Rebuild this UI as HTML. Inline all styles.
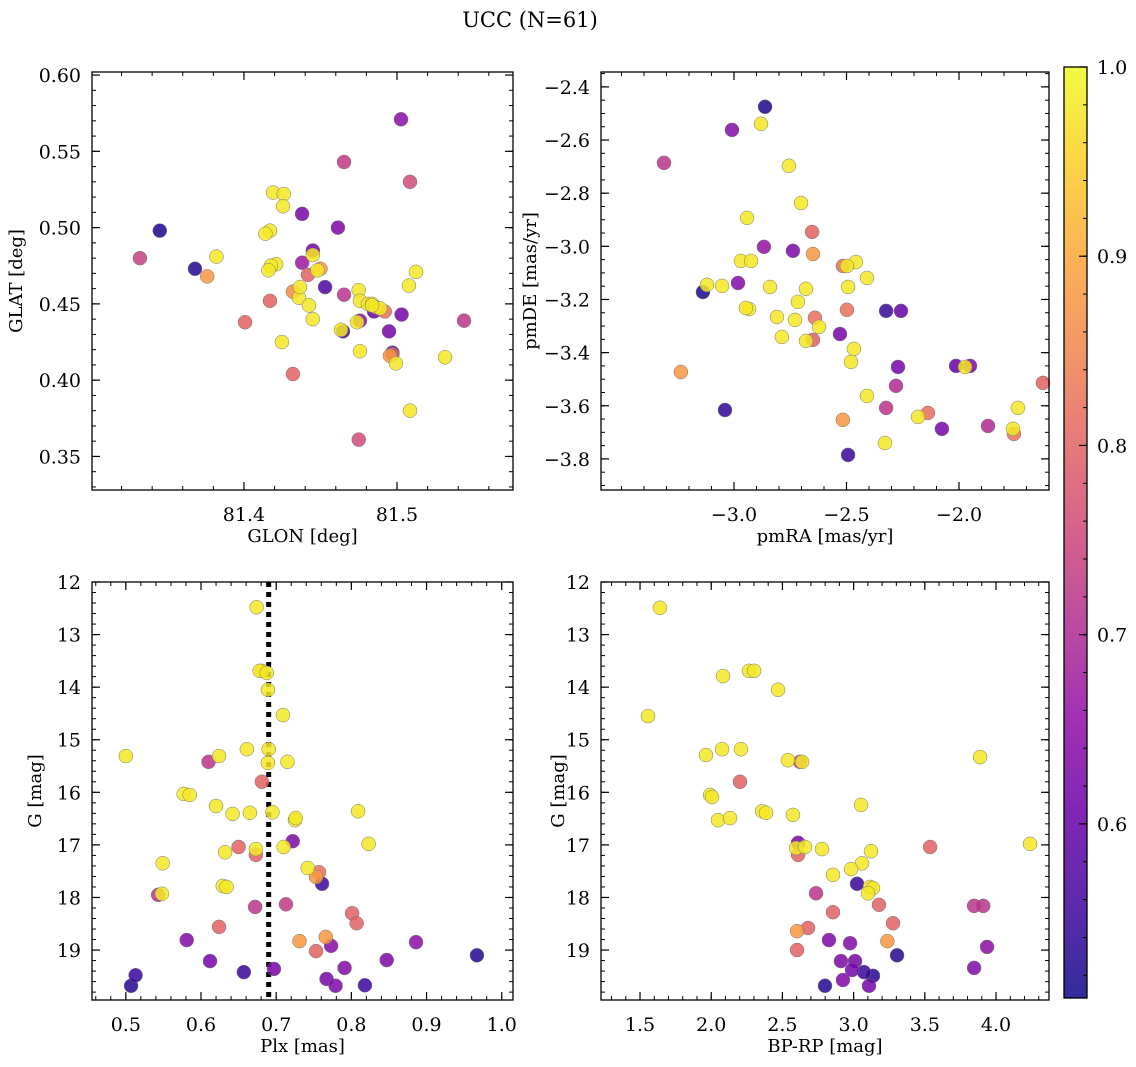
<!DOCTYPE html>
<html><head><meta charset="utf-8"><style>
html,body{margin:0;padding:0;background:#fff;}
svg{display:block;font-family:"DejaVu Serif","Liberation Serif",serif;}
</style></head><body>
<svg id="fig" width="1136" height="1067" xmlns="http://www.w3.org/2000/svg">
<text x="530" y="27" text-anchor="middle" font-size="21">UCC (N=61)</text>
</svg>
<script>
// ---- Panel 1: GLON / GLAT ----
const p1x=[81.5026,81.4654,81.5085,81.419,81.426,81.4255,81.438,81.345,81.4614,81.417,81.414,81.445,81.445,81.382,81.332,81.421,81.4176,81.438,81.416,81.368,81.450,81.448,81.376,81.4418,81.5124,81.5078,81.453,81.432,81.475,81.417,81.436,81.4654,81.4758,81.4425,81.481,81.4837,81.486,81.492,81.489,81.485,81.503,81.4007,81.5438,81.445,81.4739,81.4758,81.4647,81.4634,81.4948,81.4248,81.4758,81.497,81.4954,81.497,81.5314,81.4993,81.432,81.5085,81.475,81.4366,81.4837];
const p1y=[0.571,0.543,0.530,0.523,0.522,0.514,0.509,0.498,0.500,0.498,0.496,0.485,0.482,0.481,0.480,0.476,0.475,0.477,0.472,0.473,0.473,0.472,0.468,0.469,0.471,0.462,0.461,0.458,0.459,0.452,0.454,0.456,0.452,0.449,0.450,0.450,0.448,0.445,0.447,0.445,0.443,0.438,0.439,0.440,0.438,0.439,0.432,0.433,0.432,0.425,0.419,0.418,0.416,0.417,0.415,0.411,0.404,0.380,0.361,0.461,0.449];
const p1c=[0.65,0.73,0.76,0.98,0.98,0.98,0.62,0.52,0.63,0.98,0.98,0.62,0.98,0.98,0.74,0.98,0.98,0.67,0.98,0.53,0.88,0.98,0.88,0.80,0.98,0.98,0.57,0.86,0.98,0.80,0.98,0.72,0.98,0.98,0.98,0.98,0.98,0.82,0.98,0.60,0.62,0.80,0.72,0.98,0.98,0.65,0.56,0.98,0.62,0.98,0.98,0.56,0.88,0.80,0.98,0.98,0.80,0.98,0.76,0.98,0.98];
// ---- Panel 2: pmRA / pmDE ----
const p2x=[-2.862,-2.880,-3.009,-3.311,-2.756,-2.702,-2.942,-2.653,-2.867,-2.738,-2.969,-2.924,-2.649,-2.458,-2.516,-2.498,-2.680,-2.409,-3.120,-3.053,-2.982,-2.840,-3.138,-2.493,-2.716,-2.933,-2.947,-2.640,-2.498,-2.324,-2.258,-2.809,-2.729,-2.622,-2.787,-2.680,-2.649,-2.529,-2.467,-2.480,-2.271,-2.013,-1.951,-1.973,-3.236,-2.280,-1.627,-2.409,-3.040,-1.738,-2.324,-2.138,-2.182,-2.516,-2.076,-1.871,-1.760,-1.756,-2.329,-2.493];
const p2y=[-2.475,-2.539,-2.562,-2.686,-2.697,-2.837,-2.893,-2.946,-3.002,-3.017,-3.055,-3.055,-3.029,-3.059,-3.074,-3.074,-3.160,-3.119,-3.145,-3.149,-3.138,-3.153,-3.172,-3.153,-3.209,-3.236,-3.232,-3.269,-3.239,-3.243,-3.243,-3.266,-3.277,-3.303,-3.341,-3.356,-3.352,-3.330,-3.386,-3.435,-3.454,-3.450,-3.450,-3.454,-3.473,-3.525,-3.514,-3.563,-3.616,-3.608,-3.608,-3.627,-3.642,-3.653,-3.687,-3.676,-3.687,-3.706,-3.740,-3.785];
const p2c=[0.52,0.98,0.64,0.72,0.98,0.98,0.98,0.80,0.66,0.63,0.98,0.98,0.88,0.98,0.82,0.98,0.98,0.98,0.98,0.98,0.64,0.98,0.52,0.98,0.98,0.98,0.98,0.82,0.82,0.55,0.60,0.98,0.98,0.98,0.98,0.98,0.80,0.62,0.98,0.98,0.62,0.60,0.63,0.98,0.88,0.70,0.80,0.98,0.54,0.98,0.72,0.82,0.98,0.88,0.62,0.70,0.98,0.82,0.98,0.55];
// ---- Panel 3: Plx / G ----
const p3x=[0.674,0.681,0.678,0.6875,0.689,0.709,0.500,0.624,0.661,0.690,0.689,0.715,0.610,0.681,0.577,0.585,0.620,0.642,0.665,0.695,0.809,0.725,0.726,0.823,0.722,0.710,0.650,0.632,0.673,0.673,0.549,0.742,0.757,0.753,0.761,0.548,0.543,0.629,0.634,0.672,0.713,0.801,0.624,0.807,0.581,0.731,0.766,0.773,0.753,0.886,0.967,0.612,0.791,0.847,0.657,0.697,0.513,0.767,0.507,0.779,0.818];
const p3y=[12.48,13.69,13.69,13.73,14.05,14.53,15.31,15.31,15.18,15.18,15.44,15.42,15.42,15.80,16.03,16.05,16.26,16.41,16.39,16.38,16.36,16.53,16.49,16.98,16.93,17.04,17.04,17.14,17.08,17.19,17.35,17.44,17.52,17.61,17.74,17.93,17.95,17.78,17.80,18.18,18.13,18.30,18.56,18.49,18.81,18.83,18.75,18.92,19.02,18.85,19.10,19.21,19.34,19.19,19.42,19.36,19.48,19.55,19.68,19.68,19.67];
const p3c=[0.98,0.98,0.98,0.98,0.98,0.98,0.98,0.98,0.98,0.98,0.98,0.98,0.72,0.80,0.98,0.98,0.98,0.98,0.98,0.98,0.98,0.98,0.98,0.98,0.63,0.98,0.80,0.98,0.98,0.80,0.98,0.98,0.82,0.88,0.55,0.98,0.72,0.98,0.98,0.72,0.73,0.80,0.80,0.80,0.64,0.88,0.88,0.64,0.80,0.65,0.53,0.62,0.64,0.63,0.55,0.62,0.55,0.62,0.53,0.63,0.55];
// ---- Panel 4: BP-RP / G ----
const p4x=[1.640,1.556,2.083,2.265,2.301,2.469,1.963,2.076,2.209,2.539,3.888,2.202,2.624,2.638,1.992,2.006,3.052,2.357,2.385,2.574,2.048,2.132,2.610,4.239,2.778,3.122,3.537,2.596,2.610,2.659,3.059,2.982,2.855,2.736,3.024,3.115,3.136,3.101,3.178,2.855,3.910,3.846,3.277,2.680,2.603,2.827,2.975,3.237,3.937,2.603,3.305,2.911,3.010,2.989,3.073,3.846,3.136,2.925,2.799,3.108];
const p4y=[12.49,14.55,13.79,13.69,13.69,14.05,15.29,15.18,15.18,15.39,15.33,15.80,15.42,15.42,16.05,16.09,16.24,16.36,16.39,16.43,16.53,16.49,16.96,16.98,17.08,17.12,17.04,17.06,17.19,17.04,17.35,17.46,17.57,17.92,17.74,17.80,17.82,17.92,18.14,18.28,18.16,18.16,18.49,18.58,18.64,18.81,18.87,18.83,18.94,19.00,19.10,19.21,19.21,19.38,19.42,19.34,19.49,19.57,19.68,19.68];
const p4c=[0.98,0.98,0.98,0.98,0.98,0.98,0.98,0.98,0.98,0.98,0.98,0.80,0.72,0.98,0.98,0.98,0.98,0.98,0.98,0.98,0.98,0.98,0.63,0.98,0.98,0.98,0.80,0.98,0.80,0.98,0.98,0.98,0.98,0.72,0.55,0.98,0.98,0.98,0.80,0.80,0.72,0.72,0.80,0.80,0.88,0.63,0.64,0.88,0.65,0.80,0.53,0.63,0.62,0.62,0.55,0.64,0.53,0.63,0.53,0.62];
// ---- axis/tick definitions ----
const cbTicks=[0.6,0.7,0.8,0.9,1.0];
const vmin=0.508, vmax=1.0;

const NS="http://www.w3.org/2000/svg";
const svg=document.getElementById('fig');
function mk(tag,attrs,parent){const e=document.createElementNS(NS,tag);for(const k in attrs)e.setAttribute(k,attrs[k]);(parent||svg).appendChild(e);return e;}
const stops=[[13,8,135],[65,4,157],[106,0,168],[143,13,164],[177,42,144],[204,71,120],[225,100,98],[242,132,75],[252,166,54],[252,206,37],[240,249,33]];
function plasma(t){t=Math.max(0,Math.min(1,t));const f=t*10,i=Math.min(9,Math.floor(f)),r=f-i;const a=stops[i],b=stops[i+1];return 'rgb('+a.map((v,k)=>Math.round(v+(b[k]-v)*r)).join(',')+')';}
function cmap(v){return plasma((v-vmin)/(vmax-vmin));}
const TF=19, LF=18;

function panel(cfg){
  const {name,L,R,T,B,x0,x1,y0,y1,xt,yt,xmin,ymin,xfmt,yfmt,xlabel,ylabel,xs,ys,cs}=cfg;
  const sx=v=>L+(v-x0)/(x1-x0)*(R-L);
  const sy=v=>T+(v-y0)/(y1-y0)*(B-T);
  const g=mk('g',{});
  
  
  const eps=1e-9;
  const lo=Math.min(x0,x1),hi=Math.max(x0,x1);
  for(let k=Math.ceil(lo/xmin-eps);k*xmin<=hi+eps;k++){const p=sx(k*xmin);mk('line',{x1:p,x2:p,y1:B,y2:B-4,stroke:'#000','stroke-width':1},g);mk('line',{x1:p,x2:p,y1:T,y2:T+4,stroke:'#000','stroke-width':1},g);}
  const ylo=Math.min(y0,y1),yhi=Math.max(y0,y1);
  for(let k=Math.ceil(ylo/ymin-eps);k*ymin<=yhi+eps;k++){const p=sy(k*ymin);mk('line',{x1:L,x2:L+4,y1:p,y2:p,stroke:'#000','stroke-width':1},g);mk('line',{x1:R,x2:R-4,y1:p,y2:p,stroke:'#000','stroke-width':1},g);}
  xt.forEach(v=>{const p=sx(v);mk('line',{x1:p,x2:p,y1:B,y2:B-8,stroke:'#000','stroke-width':1.2},g);mk('line',{x1:p,x2:p,y1:T,y2:T+8,stroke:'#000','stroke-width':1.2},g);
    const t=mk('text',{x:p,y:B+31,'text-anchor':'middle','font-size':TF},g);t.textContent=xfmt(v);
    
    });
  yt.forEach(v=>{const p=sy(v);mk('line',{x1:L,x2:L+8,y1:p,y2:p,stroke:'#000','stroke-width':1.2},g);mk('line',{x1:R,x2:R-8,y1:p,y2:p,stroke:'#000','stroke-width':1.2},g);
    const t=mk('text',{x:L-11,y:p+7,'text-anchor':'end','font-size':TF},g);t.textContent=yfmt(v);
    
    });
  const xl=mk('text',{x:(L+R)/2,y:B+52,'text-anchor':'middle','font-size':LF},g);xl.textContent=xlabel;
  
  
  const yl=mk('text',{x:0,y:0,'text-anchor':'middle','font-size':LF,transform:`translate(${cfg.ylx},${(T+B)/2}) rotate(-90)`},g);yl.textContent=ylabel;
  
  
  if(cfg.vline!==undefined){const p=sx(cfg.vline);const l=mk('line',{x1:p,x2:p,y1:T,y2:B,stroke:'#000','stroke-width':5,'stroke-dasharray':'5,5'},g);
    
    }
  const idx=xs.map((_,i)=>i).sort((a,b)=>cs[a]-cs[b]);
  idx.forEach(i=>{const c=mk('circle',{cx:sx(xs[i]),cy:sy(ys[i]),r:7,fill:cmap(cs[i]),'fill-opacity':0.85,stroke:'#777','stroke-width':0.5},g);
    
    });
  mk('rect',{x:L,y:T,width:R-L,height:B-T,fill:'none',stroke:'#000','stroke-width':1.3},g);
}
const f1=v=>v.toFixed(1),f2=v=>v.toFixed(2),f0=v=>v.toFixed(0),fm=v=>(v<0?'\u2212':'')+Math.abs(v).toFixed(1);
panel({name:'glon-glat-panel',L:92,R:513,T:72,B:490,x0:81.3007,x1:81.5758,y0:0.602,y1:0.328,xt:[81.4,81.5],yt:[0.35,0.40,0.45,0.50,0.55,0.60],xmin:0.02,ymin:0.01,xfmt:f1,yfmt:f2,xlabel:'GLON [deg]',ylabel:'GLAT [deg]',ylx:22,xs:p1x,ys:p1y,cs:p1c});
panel({name:'pm-panel',L:601,R:1049,T:72,B:490,x0:-3.591,x1:-1.600,y0:-2.344,y1:-3.917,xt:[-3.0,-2.5,-2.0],yt:[-2.4,-2.6,-2.8,-3.0,-3.2,-3.4,-3.6,-3.8],xmin:0.1,ymin:0.05,xfmt:fm,yfmt:fm,xlabel:'pmRA [mas/yr]',ylabel:'pmDE [mas/yr]',ylx:536,xs:p2x,ys:p2y,cs:p2c});
panel({name:'plx-g-panel',L:92,R:513,T:582,B:1000,x0:0.455,x1:1.015,y0:12.0,y1:19.95,xt:[0.5,0.6,0.7,0.8,0.9,1.0],yt:[12,13,14,15,16,17,18,19],xmin:0.02,ymin:0.2,xfmt:f1,yfmt:f0,xlabel:'Plx [mas]',ylabel:'G [mag]',ylx:41,vline:0.690,xs:p3x,ys:p3y,cs:p3c});
panel({name:'cmd-panel',L:601,R:1049,T:582,B:1000,x0:1.226,x1:4.372,y0:12.0,y1:19.95,xt:[1.5,2.0,2.5,3.0,3.5,4.0],yt:[12,13,14,15,16,17,18,19],xmin:0.1,ymin:0.2,xfmt:f1,yfmt:f0,xlabel:'BP-RP [mag]',ylabel:'G [mag]',ylx:564,xs:p4x,ys:p4y,cs:p4c});
// colorbar
const cb=mk('g',{});


const defs=mk('defs',{},cb);
const lg=mk('linearGradient',{id:'cbg',x1:0,y1:1,x2:0,y2:0},defs);
for(let i=0;i<=10;i++){mk('stop',{offset:i/10,'stop-color':plasma(i/10),'stop-opacity':0.85},lg);}
const cT=67,cB=998,cL=1064,cR=1087;
mk('rect',{x:cL,y:cT,width:cR-cL,height:cB-cT,fill:'url(#cbg)'},cb);
const cy=v=>cB-(v-vmin)/(vmax-vmin)*(cB-cT);
for(let k=26;k<=50;k++){const v=k*0.02;mk('line',{x1:cR,x2:cR-4,y1:cy(v),y2:cy(v),stroke:'#000','stroke-width':1},cb);}
cbTicks.forEach(v=>{mk('line',{x1:cR,x2:cR-8,y1:cy(v),y2:cy(v),stroke:'#000','stroke-width':1.2},cb);
  const t=mk('text',{x:cR+10,y:cy(v)+7,'font-size':TF},cb);t.textContent=v.toFixed(1);
  
  });
mk('rect',{x:cL,y:cT,width:cR-cL,height:cB-cT,fill:'none',stroke:'#000','stroke-width':1.3},cb);
</script>
</body></html>
